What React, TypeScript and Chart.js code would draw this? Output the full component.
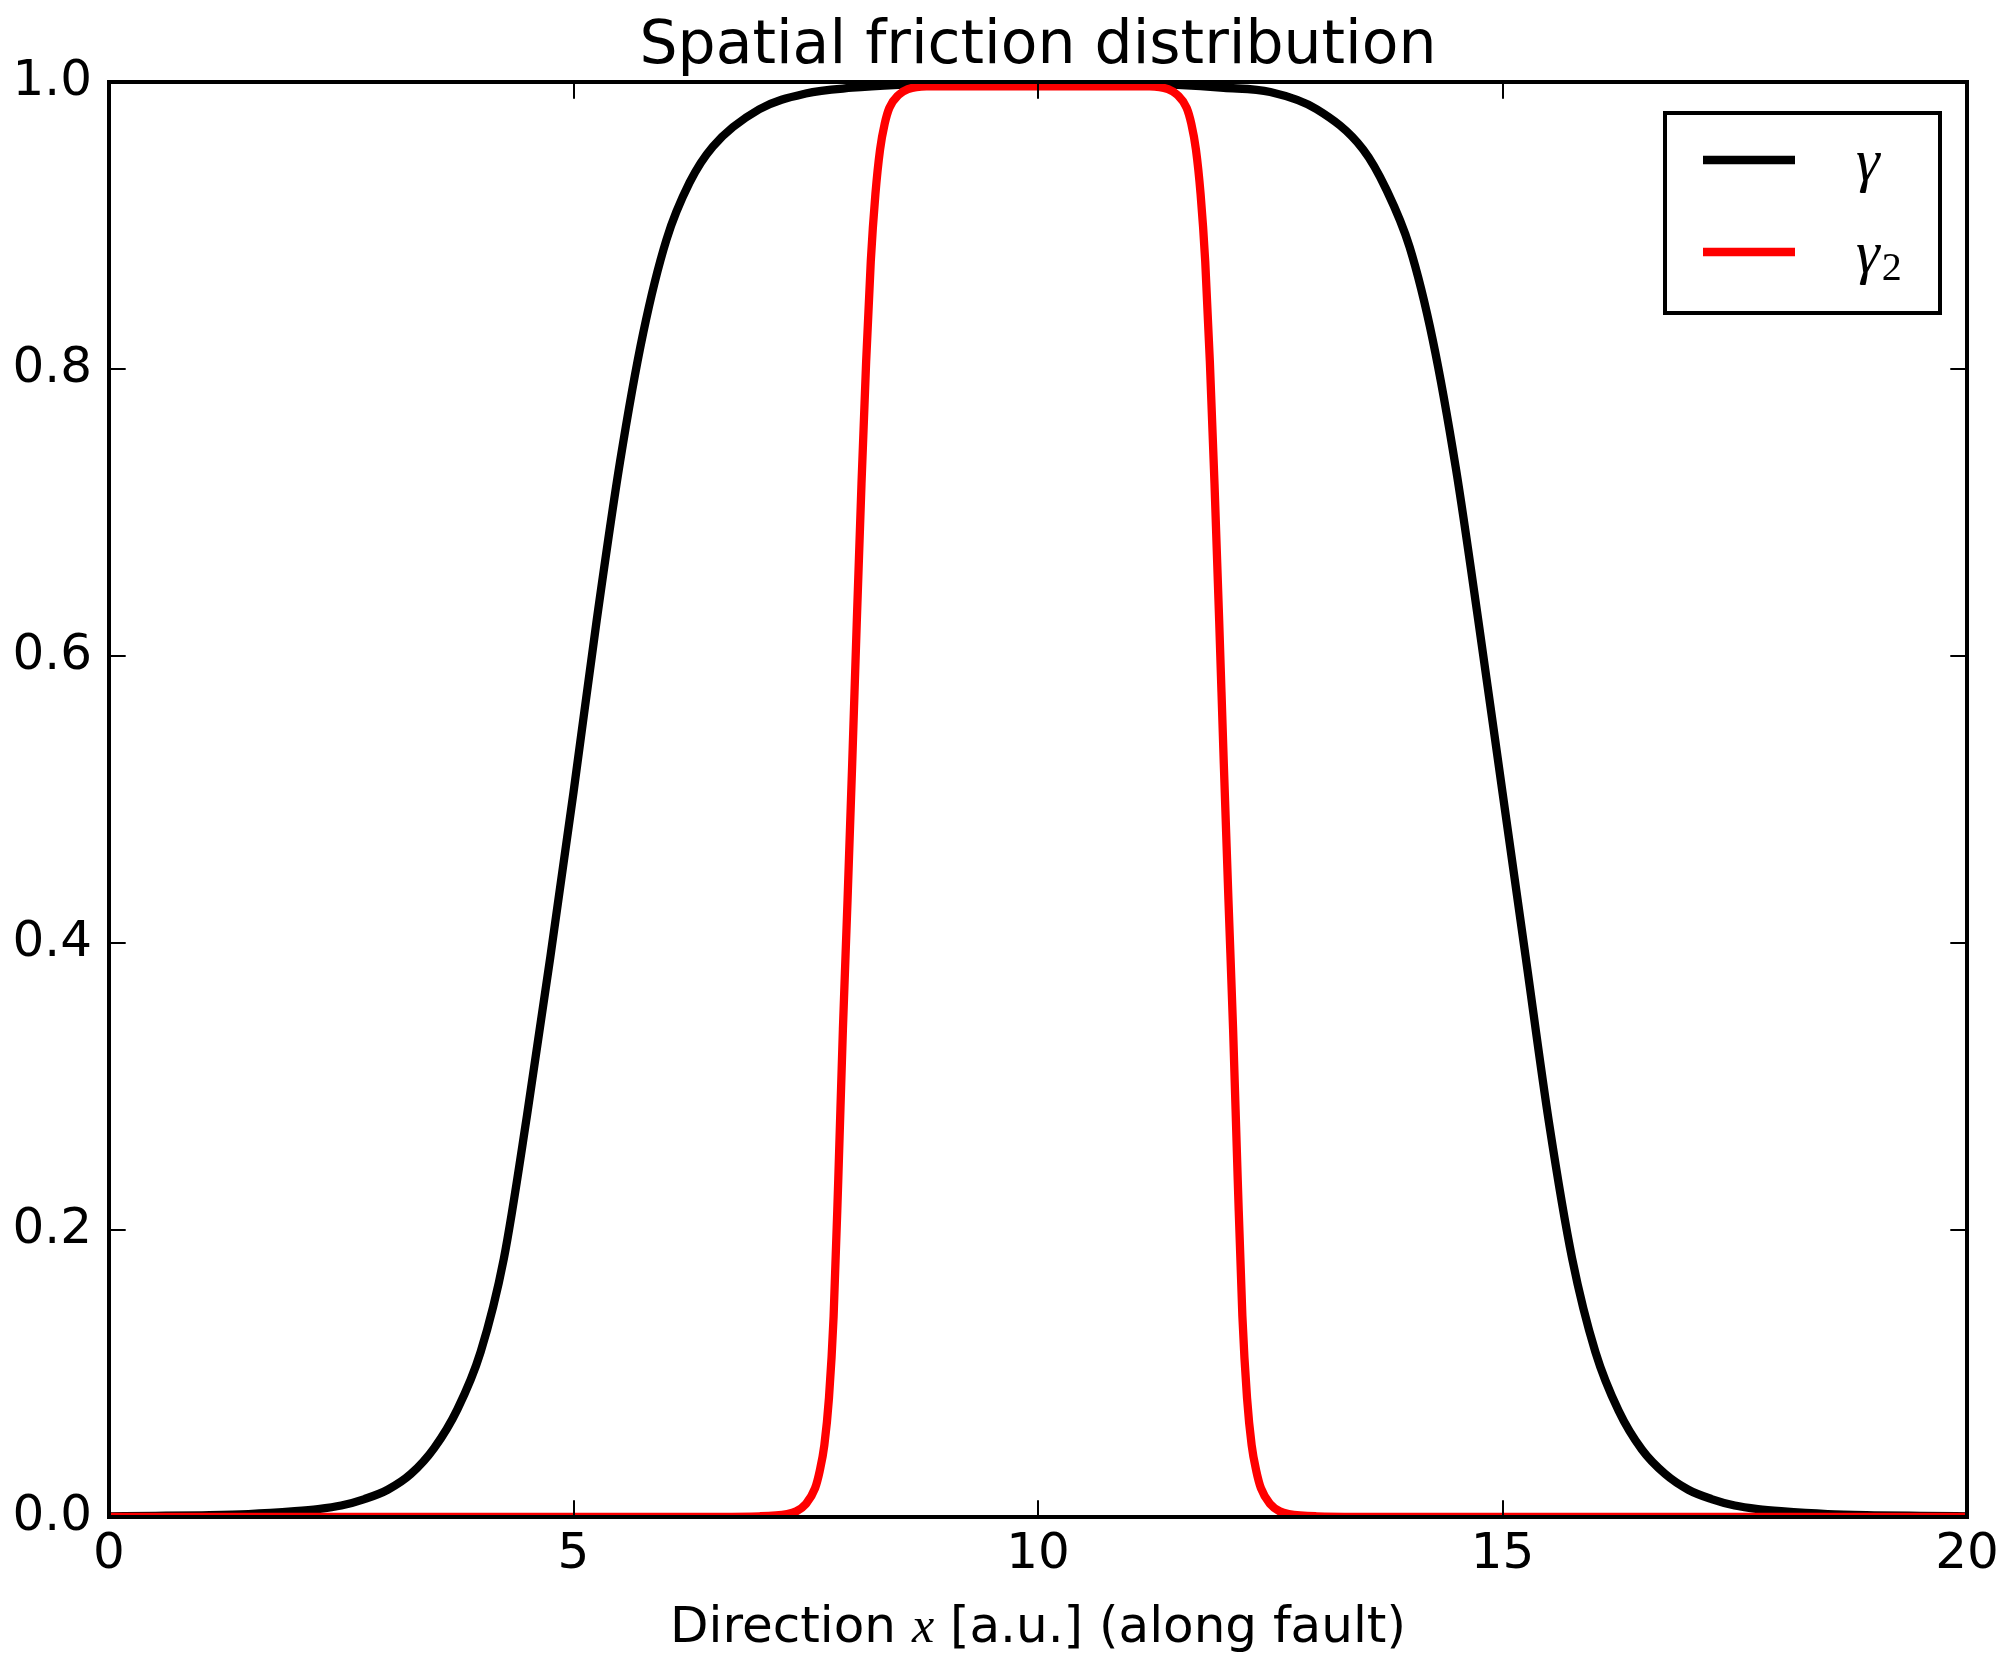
import React, { useEffect, useRef } from "react";
import { Chart, registerables } from "chart.js";

Chart.register(...registerables);

const TITLE = "Spatial friction distribution";
const X_LABEL_PARTS = ["Direction ", "x", " [a.u.] (along fault)"];
const LEGEND_BASE = "γ";
const LEGEND_SUB = ["", "2"];
const X_TICKS = [0, 5, 10, 15, 20];
const Y_TICKS = [0, 0.2, 0.4, 0.6, 0.8, 1.0];

const gammaX = [0, 0.5, 1, 1.5, 2, 2.25, 2.5, 2.75, 3, 3.25, 3.5, 3.75, 4, 4.25, 4.5, 4.75, 5, 5.25, 5.5, 5.75, 6, 6.25, 6.5, 7, 7.5, 8, 8.5, 9, 10, 11, 11.5, 12, 12.5, 13, 13.5, 13.75, 14, 14.25, 14.5, 14.75, 15, 15.25, 15.5, 15.75, 16, 16.25, 16.5, 16.75, 17, 17.25, 17.5, 17.75, 18, 18.5, 19, 19.5, 20];
const gammaY = [0.0005, 0.0008, 0.0012, 0.002, 0.004, 0.0055, 0.008, 0.0125, 0.019, 0.03, 0.048, 0.075, 0.115, 0.18, 0.28, 0.39, 0.505, 0.625, 0.735, 0.825, 0.89, 0.93, 0.955, 0.981, 0.992, 0.996, 0.998, 0.999, 1.0, 0.999, 0.998, 0.996, 0.993, 0.981, 0.953, 0.925, 0.885, 0.82, 0.73, 0.62, 0.505, 0.39, 0.275, 0.18, 0.115, 0.074, 0.047, 0.03, 0.019, 0.0125, 0.008, 0.0055, 0.004, 0.002, 0.0012, 0.0008, 0.0005];

const gamma2X = [0, 2, 4, 6, 7, 7.3, 7.4, 7.5, 7.6, 7.65, 7.7, 7.75, 7.8, 7.85, 7.9, 7.95, 8.0, 8.05, 8.1, 8.15, 8.2, 8.25, 8.3, 8.35, 8.4, 8.5, 8.6, 8.8, 9, 10, 11, 11.2, 11.4, 11.5, 11.6, 11.65, 11.7, 11.75, 11.8, 11.85, 11.9, 11.95, 12.0, 12.05, 12.1, 12.15, 12.2, 12.25, 12.3, 12.35, 12.4, 12.5, 12.6, 12.7, 13, 14, 16, 18, 20];
const gamma2Y = [0, 0, 0, 0, 0.0005, 0.002, 0.004, 0.009, 0.02, 0.032, 0.05, 0.083, 0.14, 0.235, 0.34, 0.43, 0.525, 0.625, 0.72, 0.805, 0.875, 0.922, 0.953, 0.971, 0.982, 0.991, 0.995, 0.997, 0.997, 0.997, 0.997, 0.997, 0.995, 0.991, 0.982, 0.971, 0.953, 0.922, 0.875, 0.805, 0.72, 0.625, 0.525, 0.43, 0.34, 0.235, 0.14, 0.083, 0.05, 0.032, 0.02, 0.009, 0.004, 0.002, 0.0005, 0, 0, 0, 0];

const SANS = '"DejaVu Sans"';
const SERIF = '"Liberation Serif"';

const decorPlugin = {
  id: "decor",
  afterDraw(chart: any) {
    const ctx = chart.ctx as CanvasRenderingContext2D;
    const { left, right, top, bottom } = chart.chartArea;
    const xs = chart.scales.x;
    const ys = chart.scales.y;
    ctx.save();
    ctx.strokeStyle = "#000";
    // ticks (inward, all four sides)
    ctx.lineWidth = 2;
    const tl = 16.7;
    ctx.beginPath();
    X_TICKS.forEach((v) => {
      const px = Math.round(xs.getPixelForValue(v));
      ctx.moveTo(px, bottom);
      ctx.lineTo(px, bottom - tl);
      ctx.moveTo(px, top);
      ctx.lineTo(px, top + tl);
    });
    Y_TICKS.forEach((v) => {
      const py = Math.round(ys.getPixelForValue(v));
      ctx.moveTo(left, py);
      ctx.lineTo(left + tl, py);
      ctx.moveTo(right, py);
      ctx.lineTo(right - tl, py);
    });
    ctx.stroke();
    // frame
    ctx.lineWidth = 4;
    ctx.strokeRect(left, top, right - left, bottom - top);

    // title
    ctx.fillStyle = "#000";
    ctx.textBaseline = "alphabetic";
    ctx.textAlign = "left";
    ctx.font = `60px ${SANS}`;
    const cx = (left + right) / 2;
    const tw = ctx.measureText(TITLE).width;
    ctx.fillText(TITLE, cx - tw / 2, 63);

    // x label with math italic x
    const fonts = [`50px ${SANS}`, `italic 50px ${SERIF}`, `50px ${SANS}`];
    const widths = X_LABEL_PARTS.map((p, i) => {
      ctx.font = fonts[i];
      return ctx.measureText(p).width;
    });
    let xx = cx - widths.reduce((a, b) => a + b, 0) / 2;
    X_LABEL_PARTS.forEach((p, i) => {
      ctx.font = fonts[i];
      ctx.fillText(p, xx, 1642);
      xx += widths[i];
    });

    // legend
    const bx = 1665, by = 113, bw = 275, bh = 200;
    ctx.fillStyle = "#fff";
    ctx.fillRect(bx, by, bw, bh);
    ctx.lineWidth = 4;
    ctx.strokeStyle = "#000";
    ctx.strokeRect(bx, by, bw, bh);
    const rows = [160, 252];
    chart.data.datasets.forEach((ds: any, i: number) => {
      const y = rows[i];
      ctx.strokeStyle = ds.borderColor;
      ctx.lineWidth = ds.borderWidth;
      ctx.beginPath();
      ctx.moveTo(1703, y);
      ctx.lineTo(1795, y);
      ctx.stroke();
      ctx.fillStyle = "#000";
      ctx.font = `italic 60px ${SERIF}`;
      const base = y + 20;
      ctx.fillText(LEGEND_BASE, 1856, base);
      const gw = ctx.measureText(LEGEND_BASE).width;
      if (LEGEND_SUB[i]) {
        ctx.font = `40px ${SERIF}`;
        ctx.fillText(LEGEND_SUB[i], 1856 + gw + 2, base + 8);
      }
    });
    ctx.restore();
  },
};

export default function App() {
  const ref = useRef<HTMLCanvasElement | null>(null);
  useEffect(() => {
    if (!ref.current) return;
    const chart = new Chart(ref.current, {
      type: "line",
      data: {
        datasets: [
          {
            label: "γ",
            data: gammaX.map((x, i) => ({ x, y: gammaY[i] })),
            borderColor: "#000000",
            borderWidth: 8.3,
            pointRadius: 0,
            fill: false,
            cubicInterpolationMode: "monotone",
            clip: 0,
            order: 2,
          } as any,
          {
            label: "γ₂",
            data: gamma2X.map((x, i) => ({ x, y: gamma2Y[i] })),
            borderColor: "#ff0000",
            borderWidth: 8.3,
            pointRadius: 0,
            fill: false,
            cubicInterpolationMode: "monotone",
            clip: 0,
            order: 1,
          } as any,
        ],
      },
      options: {
        responsive: false,
        animation: false,
        devicePixelRatio: 1,
        layout: { padding: { top: 82, right: 49, left: 0, bottom: 0 } },
        plugins: {
          legend: { display: false },
          title: { display: false },
          tooltip: { enabled: false },
        },
        scales: {
          x: {
            type: "linear",
            min: 0,
            max: 20,
            afterBuildTicks: (s: any) => {
              s.ticks = X_TICKS.map((v) => ({ value: v }));
            },
            grid: { display: false, drawTicks: false },
            border: { display: false },
            ticks: {
              font: { family: "DejaVu Sans", size: 50 },
              color: "#000",
              padding: 8,
              maxRotation: 0,
              autoSkip: false,
              callback: (v: any) => String(v),
            },
            afterFit: (s: any) => {
              s.height = 153;
            },
          },
          y: {
            type: "linear",
            min: 0,
            max: 1,
            afterBuildTicks: (s: any) => {
              s.ticks = Y_TICKS.map((v) => ({ value: v }));
            },
            grid: { display: false, drawTicks: false },
            border: { display: false },
            ticks: {
              font: { family: "DejaVu Sans", size: 50 },
              color: "#000",
              padding: 17,
              autoSkip: false,
              callback: (v: any) => Number(v).toFixed(1),
            },
            afterFit: (s: any) => {
              s.width = 109;
            },
          },
        },
      } as any,
      plugins: [decorPlugin],
    });
    return () => chart.destroy();
  }, []);
  return (
    <div style={{ position: "absolute", left: 0, top: 0, width: 2016, height: 1670, background: "#fff" }}>
      <canvas ref={ref} width={2016} height={1670} style={{ width: 2016, height: 1670, display: "block" }} />
    </div>
  );
}
